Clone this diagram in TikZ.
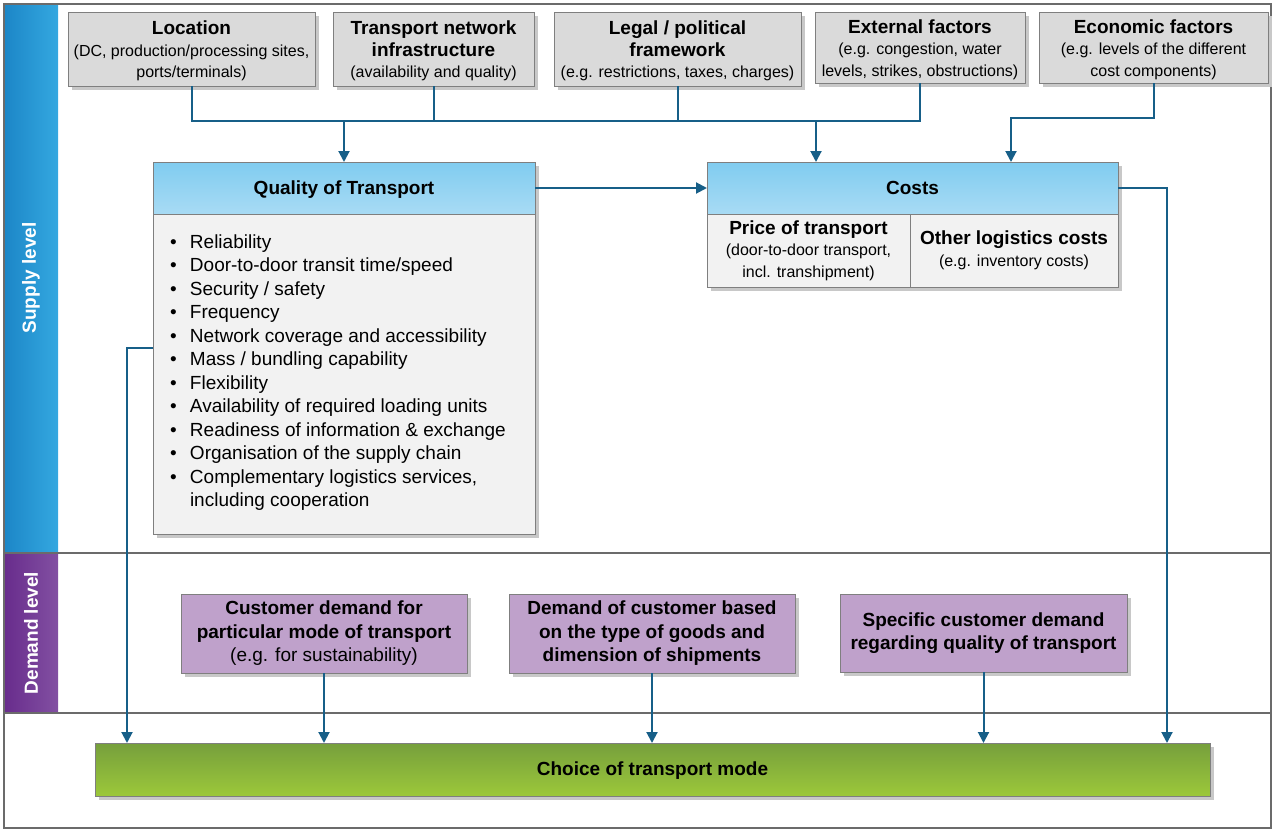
\documentclass[tikz,border=0pt]{standalone}
\usepackage{fontspec}
\setmainfont{Liberation Sans}
\usetikzlibrary{arrows.meta,shadows,calc}
\definecolor{connc}{HTML}{175F88}
\definecolor{framec}{HTML}{6B6B6B}
\definecolor{borderc}{HTML}{7F7F7F}
\definecolor{topfill}{HTML}{DADADA}
\definecolor{bodyfill}{HTML}{F2F2F2}
\definecolor{shadc}{HTML}{C8C8C8}
\definecolor{hdrtop}{HTML}{80CCF0}
\definecolor{hdrbot}{HTML}{A8DBF4}
\definecolor{supL}{HTML}{1C86C7}
\definecolor{supR}{HTML}{34A8E0}
\definecolor{demL}{HTML}{682C8C}
\definecolor{demR}{HTML}{8250A2}
\definecolor{lavc}{HTML}{BFA1CB}
\definecolor{grnT}{HTML}{769F3C}
\definecolor{grnB}{HTML}{9CC83A}
\newcommand\mysub{\fontsize{16}{21.5}\selectfont}
\newcommand\myttl{\fontsize{19}{21.5}\selectfont\bfseries}
\newcommand\toprule{\rule{0pt}{18pt}}
\begin{document}
\begin{tikzpicture}[x=1pt,y=-1pt,
  every node/.style={inner sep=0pt,outer sep=0pt},
  shad/.style={drop shadow={shadow xshift=4pt,shadow yshift=-4pt,opacity=1,fill=shadc}},
  topbox/.style={draw=borderc,line width=0.9pt,fill=topfill,shad,anchor=north west,align=center,font=\mysub},
  hdr/.style={draw=borderc,line width=0.9pt,top color=hdrtop,bottom color=hdrbot,anchor=north west,align=center,font=\myttl},
  body/.style={draw=borderc,line width=0.9pt,fill=bodyfill,anchor=north west,align=center,font=\mysub},
  dembox/.style={draw=borderc,line width=0.9pt,fill=lavc,shad,anchor=north west,align=center,font={\fontsize{19}{23.5}\selectfont\bfseries}},
  band/.style={white,font={\fontsize{19}{22}\selectfont\bfseries},rotate=90},
  conn/.style={draw=connc,line width=2pt},
  arr/.style={conn,-{Triangle[length=11pt,width=11pt]}},
  sepline/.style={draw=framec,line width=1.1pt}
]
\useasboundingbox (0,0) rectangle (1272,830);
% bands
\fill[left color=supL,right color=supR] (4,4) rectangle (58,553);
\fill[left color=demL,right color=demR] (4,553) rectangle (58,713);
\node[band] (supply) at (31,278) {Supply level};
\node[band] (demand) at (31,633) {Demand level};
% frame and separators
\draw[sepline] (4,553) -- (1271,553);
\draw[sepline] (4,713) -- (1271,713);
\draw[sepline] (4,4) rectangle (1271,828);

% top boxes
\node[topbox,minimum width=247pt,minimum height=74pt] (loc) at (68,12)
  {{\myttl\toprule Location}\\(DC, production/processing sites,\\ports/terminals)};
\node[topbox,minimum width=201pt,minimum height=74pt] (tni) at (333,12)
  {{\myttl\toprule Transport network}\\{\myttl infrastructure}\\(availability and quality)};
\node[topbox,minimum width=247pt,minimum height=74pt] (leg) at (554,12)
  {{\myttl\toprule Legal / political}\\{\myttl framework}\\(e.g. restrictions, taxes, charges)};
\node[topbox,minimum width=210pt,minimum height=71pt] (ext) at (815,12)
  {{\myttl\toprule External factors}\\(e.g. congestion, water\\levels, strikes, obstructions)};
\node[topbox,minimum width=229pt,minimum height=71pt] (eco) at (1039,12)
  {{\myttl\toprule Economic factors}\\(e.g. levels of the different\\cost components)};

% quality of transport
\fill[shadc] (157,166) rectangle (539,538);
\node[body,minimum width=382pt,minimum height=320pt] (qb) at (153,214) {};
\node[hdr,minimum width=382pt,minimum height=52pt] (qh) at (153,162) {\rule{0pt}{17pt}Quality of Transport};
\node[anchor=base west,font={\fontsize{19}{23.5}\selectfont}] (qlist) at (170,248)
  {\begin{tabular}[t]{@{}l@{}l@{}}
   \makebox[20pt][l]{•} & Reliability\\
   \makebox[20pt][l]{•} & Door-to-door transit time/speed\\
   \makebox[20pt][l]{•} & Security / safety\\
   \makebox[20pt][l]{•} & Frequency\\
   \makebox[20pt][l]{•} & Network coverage and accessibility\\
   \makebox[20pt][l]{•} & Mass / bundling capability\\
   \makebox[20pt][l]{•} & Flexibility\\
   \makebox[20pt][l]{•} & Availability of required loading units\\
   \makebox[20pt][l]{•} & Readiness of information \& exchange\\
   \makebox[20pt][l]{•} & Organisation of the supply chain\\
   \makebox[20pt][l]{•} & Complementary logistics services,\\
   & including cooperation
  \end{tabular}};

% costs
\fill[shadc] (711,166) rectangle (1122,291);
\node[body,minimum width=203pt,minimum height=73pt] (cp) at (707,214)
  {{\myttl Price of transport}\\(door-to-door transport,\\incl. transhipment)};
\node[body,minimum width=208pt,minimum height=73pt] (co) at (910,214)
  {{\myttl Other logistics costs}\\(e.g. inventory costs)};
\node[hdr,minimum width=411pt,minimum height=52pt] (ch) at (707,162) {Costs};

% demand boxes
\node[dembox,minimum width=286pt,minimum height=79pt] (d1) at (181,594)
  {Customer demand for\\particular mode of transport\\{\mdseries (e.g. for sustainability)}};
\node[dembox,minimum width=286pt,minimum height=79pt] (d2) at (509,594)
  {Demand of customer based\\on the type of goods and\\dimension of shipments};
\node[dembox,minimum width=287pt,minimum height=78pt] (d3) at (840,594)
  {Specific customer demand\\regarding quality of transport};

% choice
\node[draw=borderc,line width=0.9pt,top color=grnT,bottom color=grnB,shad,anchor=north west,
  minimum width=1115pt,minimum height=53pt,font=\myttl] (choice) at (95,743) {\rule{0pt}{16pt}Choice of transport mode};

% connectors
\coordinate (busL) at (191.5,121);
\coordinate (busR) at (920,121);
\coordinate (cin) at (816,121);
\coordinate (e1) at (1011,118);
\coordinate (r1) at (1167,743);
\coordinate (l1) at (127,348);
\draw[conn] (loc.south) -- (busL) -- (busR) -- (ext.south);
\draw[conn] (tni.south) -- (tni.south |- busL);
\draw[conn] (leg.south) -- (leg.south |- busL);
\draw[arr] (qh.north |- busL) -- (qh.north);
\draw[arr] (cin) -- (cin |- ch.north);
\draw[arr] (eco.south) |- (e1) -- (e1 |- ch.north);
\draw[arr] (qh.east) -- (ch.west);
\draw[arr] (ch.east) -| (r1);
\draw[arr] (l1 -| qb.west) -- (l1) -- (l1 |- choice.north);
\draw[arr] (d1.south) -- (d1.south |- choice.north);
\draw[arr] (d2.south) -- (d2.south |- choice.north);
\draw[arr] (d3.south) -- (d3.south |- choice.north);
\end{tikzpicture}
\end{document}
